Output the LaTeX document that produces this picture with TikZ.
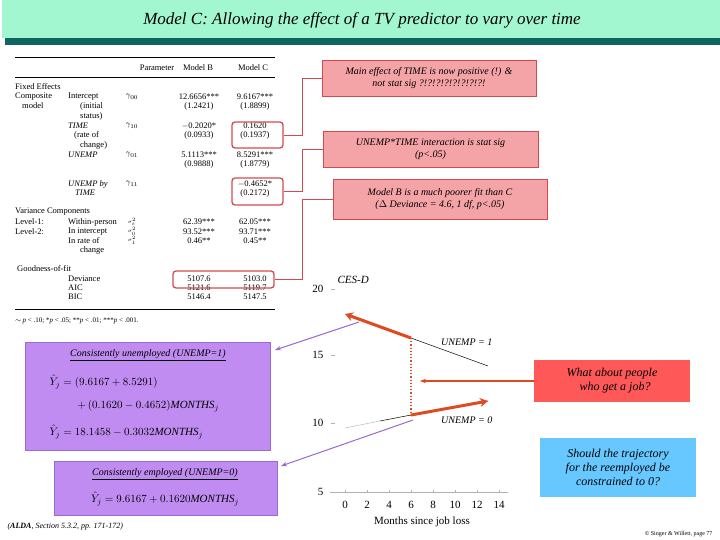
\documentclass[tikz,border=0pt]{standalone}
\usepackage{fontspec}
\setmainfont{Liberation Serif}
\usetikzlibrary{arrows.meta}
\definecolor{titlegreen}{HTML}{A3F7D0}
\definecolor{teal}{HTML}{0E6660}
\definecolor{pinkfill}{HTML}{F4A3A6}
\definecolor{pinkline}{HTML}{D24A50}
\definecolor{boxred}{HTML}{D24A50}
\definecolor{purplefill}{HTML}{C08CF2}
\definecolor{purpleline}{HTML}{9A6AD0}
\definecolor{whatred}{HTML}{FF5858}
\definecolor{bluefill}{HTML}{66C8FF}
\definecolor{arrred}{HTML}{E04A20}
\begin{document}
\begin{tikzpicture}[x=1pt,y=-1pt,
  tab/.style={font=\fontsize{8.5}{9}\selectfont, inner sep=0pt},
  tabi/.style={tab, font=\fontsize{8.5}{9}\selectfont\itshape},
  callout/.style={draw=pinkline, fill=pinkfill, line width=0.8pt, font=\fontsize{10}{12}\selectfont\itshape, align=center, inner sep=2pt},
  hl/.style={draw=boxred, line width=1.3pt, rounded corners=3pt},
  conn/.style={draw=pinkline, line width=0.8pt},
  pbox/.style={draw=purpleline, fill=purplefill, line width=0.6pt},
  parr/.style={draw=purpleline, line width=1pt, -{Stealth[length=6pt]}},
  lbl/.style={font=\fontsize{10}{11}\selectfont\itshape, inner sep=0pt}]
\useasboundingbox (0,0) rectangle (720,540);
\fill[white] (0,0) rectangle (720,540);
% title
\fill[titlegreen] (2,0) rectangle (720,38);
\fill[teal] (5,38) rectangle (720,45);
\node[font=\fontsize{17}{20}\selectfont\itshape] (title) at (362,20) {Model C: Allowing the effect of a TV predictor to vary over time};
% table rules
\draw[line width=0.8pt] (15,57) -- (275,57);
\draw[line width=0.4pt] (15,77) -- (275,77);
\draw[line width=0.8pt] (15,309) -- (275,309);
\node[tab] (hp) at (157,68) {Parameter};
\node[tab] (hb) at (198,68) {Model B};
\node[tab] (hc) at (253,68) {Model C};
% left column
\foreach \x/\y/\t [count=\i] in {15/87/Fixed Effects, 15/97/Composite, 22/106/model, 68/97/Intercept, 80/106/(initial, 80/116/status),
   15/212/Variance Components, 15/222/Level-1:, 15/232/Level-2:, 68/222/Within-person, 68/232/In intercept, 68/241/In rate of, 80/250/change,
   17/269/Goodness-of-fit, 68/279/Deviance, 68/288/AIC, 68/297/BIC, 74/135/(rate of, 80/145/change)}
  \node[tab, anchor=west] (l\i) at (\x,\y) {\t};
\foreach \x/\y/\t [count=\i] in {68/126/TIME, 68/155/UNEMP, 68/184/UNEMP by, 75/193/TIME}
  \node[tabi, anchor=west] (li\i) at (\x,\y) {\t};
\foreach \y/\t [count=\i] in {97/{\gamma_{00}},126/{\gamma_{10}},155/{\gamma_{01}},184/{\gamma_{11}}}
  \node[tab] (g\i) at (132,\y) {$\t$};
\foreach \y/\t [count=\i] in {222/{\sigma^2_\varepsilon},231/{\sigma^2_0},240/{\sigma^2_1}}
  \node[tab, font=\fontsize{6}{6}\selectfont] (s\i) at (132,\y) {$\scriptstyle\t$};
\foreach \y/\b/\c [count=\i] in {97/12.6656***/9.6167***, 106/(1.2421)/(1.8899), 126/$-$0.2020*/0.1620, 135/(0.0933)/(0.1937),
  155/5.1113***/8.5291***, 164/(0.9888)/(1.8779), 184/{}/$-$0.4652*, 193/{}/(0.2172),
  222/62.39***/62.05***, 232/93.52***/93.71***, 241/0.46**/0.45**, 279/5107.6/5103.0, 288/5121.6/5119.7, 297/5146.4/5147.5}
  {\node[tab] (b\i) at (199,\y) {\b}; \node[tab] (c\i) at (255,\y) {\c};}
\node[tab, font=\fontsize{7}{8}\selectfont, anchor=west] (foot) at (15,321) {$\sim$\,\textit{p} < .10; *\textit{p} < .05; **\textit{p} < .01; ***\textit{p} < .001.};
% highlight boxes
\node[hl, minimum width=51pt, minimum height=26pt] (hTime) at (257.5,135) {};
\node[hl, minimum width=51pt, minimum height=27pt] (hInt) at (257.5,191.5) {};
\node[hl, minimum width=101pt, minimum height=17pt] (hDev) at (223.5,279.5) {};
% callouts
\node[callout, minimum width=214pt, minimum height=36pt] (c1) at (429,78) {Main effect of TIME is now positive (!) \&\\not stat sig ?!?!?!?!?!?!?!?!};
\node[callout, minimum width=215pt, minimum height=36pt] (c2) at (430.5,149) {UNEMP*TIME interaction is stat sig\\(p<.05)};
\node[callout, minimum width=214pt, minimum height=40pt] (c3) at (440,199) {Model B is a much poorer fit than C\\($\Delta$ Deviance = 4.6, 1 df, p<.05)};
\draw[conn] (hTime.east) -- (302,135) |- (c1.west);
\draw[conn] (hInt.east) -- (302,191.5) |- (c2.west);
\draw[conn] (hDev.east) -- (302,279.5) |- (c3.west);
% chart
\draw[gray!60, line width=0.6pt] (330,492) -- (508,492);
\foreach \v/\yy in {20/289,15/355,10/423,5/492}{
  \node[font=\fontsize{11}{12}\selectfont, anchor=east] (ty\v) at (327,\yy) {\v};
  \draw[gray!60] (331,\yy) -- (335,\yy);}
\foreach \m in {0,2,...,14}{
  \node[font=\fontsize{11}{12}\selectfont] (tx\m) at ({345+11*\m},505) {\m};
  \draw[gray!60] ({345+11*\m},490) -- ({345+11*\m},492);}
\node[font=\fontsize{11}{12}\selectfont] (xl) at (422,522) {Months since job loss};
\node[font=\fontsize{11}{12}\selectfont\itshape, anchor=west] (yl) at (334,280) {CES-D};
\coordinate (u0) at (345,314);
\coordinate (u6) at (411,338);
\coordinate (u13) at (488,366);
\coordinate (e0) at (345,428);
\coordinate (e6) at (411,415);
\coordinate (e13) at (488,401);
\draw[black, line width=0.5pt] (u6) -- (u13);
\draw[gray!50, line width=0.5pt] (e0) -- (380,421);
\draw[black, line width=0.5pt] (380,421) -- (e6) -- (e13);
\draw[arrred, line width=3pt, -{Stealth[length=8pt,width=9pt]}] (u6) -- (u0);
\draw[arrred, line width=3pt, -{Stealth[length=8pt,width=9pt]}] (e6) -- (e13);
\draw[arrred, line width=1.2pt, dotted] (u6) -- (e6);
\node[lbl, anchor=west] (lu1) at (441,342) {UNEMP = 1};
\node[lbl, anchor=west] (lu0) at (441,420) {UNEMP = 0};
% purple boxes
\node[pbox, minimum width=245pt, minimum height=108pt] (p1) at (147.5,396) {};
\node[font=\fontsize{10}{11}\selectfont\itshape, anchor=north] (p1t) at (148,346) {\underline{Consistently unemployed (UNEMP=1)}};
\node[anchor=west, font=\fontsize{11}{12}\selectfont] (p1a) at (46,382) {$\hat{Y}_j = (9.6167 + 8.5291)$};
\node[anchor=west, font=\fontsize{11}{12}\selectfont] (p1b) at (74,406) {$+\,(0.1620 - 0.4652)\mathit{MONTHS}_j$};
\node[anchor=west, font=\fontsize{11}{12}\selectfont] (p1c) at (46,432) {$\hat{Y}_j = 18.1458 - 0.3032\mathit{MONTHS}_j$};
\node[pbox, minimum width=223pt, minimum height=54pt] (p2) at (165.5,488) {};
\node[font=\fontsize{10}{11}\selectfont\itshape, anchor=north] (p2t) at (165,465) {\underline{Consistently employed (UNEMP=0)}};
\node[font=\fontsize{11}{12}\selectfont] (p2a) at (165,499) {$\hat{Y}_j = 9.6167 + 0.1620\mathit{MONTHS}_j$};
\coordinate (pa1) at (359,322);
\coordinate (pa2) at (413,420);
\coordinate (pt1) at (275,350);
\coordinate (pt2) at (281,466);
\draw[parr] (pa1) -- (pt1);
\draw[parr] (pa2) -- (pt2);
% right boxes
\node[fill=whatred, minimum width=156pt, minimum height=42pt, font=\fontsize{12}{14}\selectfont\itshape, align=center] (what) at (612,381) {What about people\\\ \ who get a job?};
\node[fill=bluefill, minimum width=156pt, minimum height=59pt, font=\fontsize{12}{14}\selectfont\itshape, align=center] (should) at (618,467.5) {Should the trajectory\\for the reemployed be\\constrained to 0?};
\draw[arrred, line width=1.2pt, -{Stealth[length=6pt]}] (what.west) -- (420,381);
% footer
\node[font=\fontsize{8}{9}\selectfont\itshape, anchor=west] (ref) at (4,527) {(\textbf{ALDA}, Section 5.3.2, pp. 171-172)};
\node[font=\fontsize{6}{7}\selectfont, anchor=east] (copy) at (716,534) {\textcopyright\ Singer \& Willett, page 77};
\end{tikzpicture}
\end{document}
